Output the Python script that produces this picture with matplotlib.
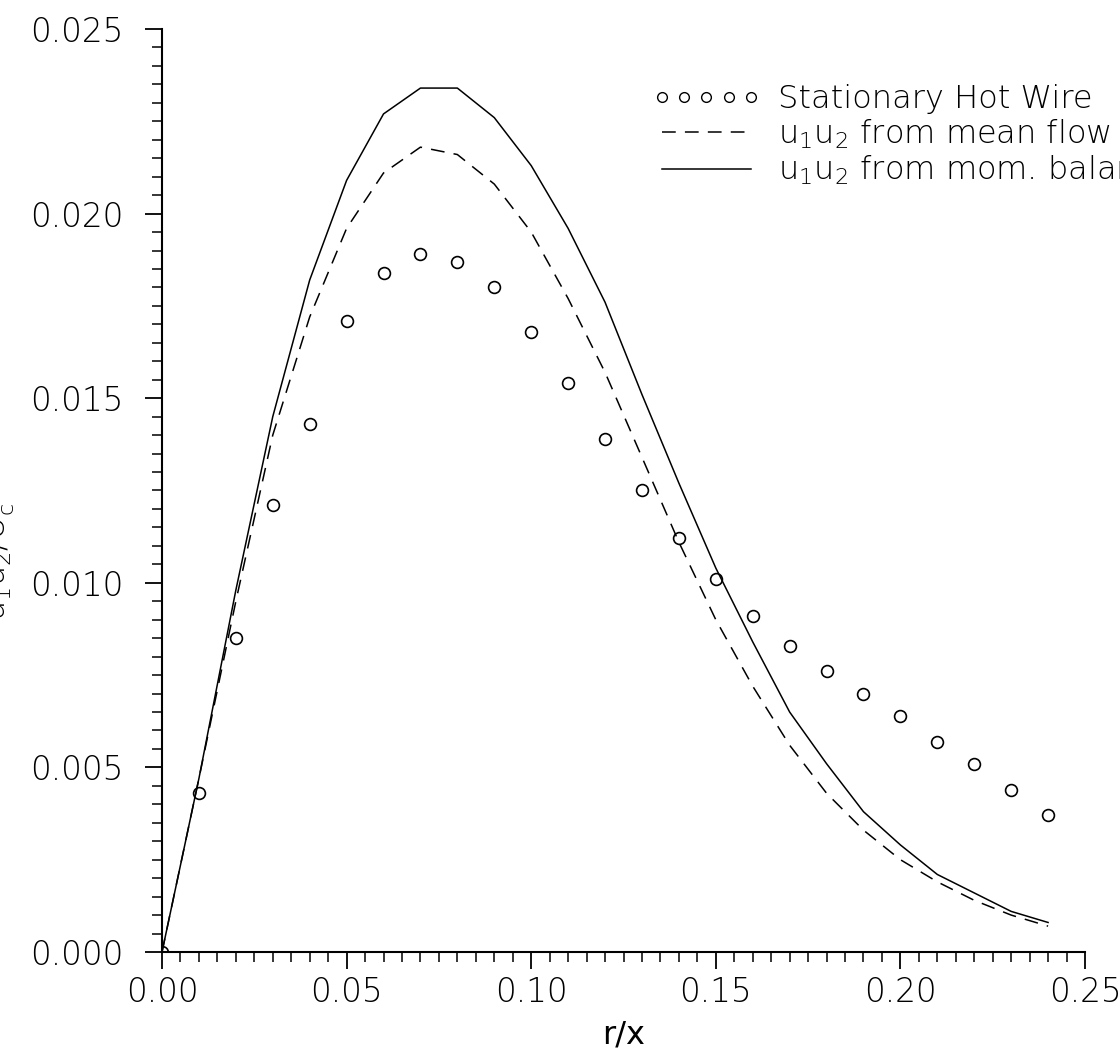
import matplotlib
matplotlib.use("Agg")
import matplotlib.pyplot as plt
from matplotlib.ticker import MultipleLocator, FormatStrFormatter

plt.rcParams['font.family'] = ['DejaVu Sans']
plt.rcParams['font.weight'] = 200
plt.rcParams['mathtext.fontset'] = 'custom'
plt.rcParams['mathtext.rm'] = 'DejaVu Sans:light'
plt.rcParams['mathtext.it'] = 'DejaVu Sans:light'

# radial positions r/x
r_x = [0.00, 0.01, 0.02, 0.03, 0.04, 0.05, 0.06, 0.07, 0.08, 0.09, 0.10, 0.11, 0.12,
       0.13, 0.14, 0.15, 0.16, 0.17, 0.18, 0.19, 0.20, 0.21, 0.22, 0.23, 0.24]

# stationary hot wire measurements
hot_wire = [0.0, 0.0043, 0.0085, 0.0121, 0.0143, 0.0171, 0.0184, 0.0189, 0.0187, 0.0180,
            0.0168, 0.0154, 0.0139, 0.0125, 0.0112, 0.0101, 0.0091, 0.0083, 0.0076,
            0.0070, 0.0064, 0.0057, 0.0051, 0.0044, 0.0037]

# u1u2 from mean flow
mean_flow = [0.0, 0.0047, 0.0095, 0.0140, 0.0172, 0.0196, 0.0211, 0.0218, 0.0216, 0.0208,
             0.0195, 0.0177, 0.0157, 0.0134, 0.0111, 0.0090, 0.0072, 0.0056, 0.0043,
             0.0033, 0.0025, 0.0019, 0.0014, 0.0010, 0.0007]

# u1u2 from momentum balance
mom_balance = [0.0, 0.0047, 0.0098, 0.0145, 0.0182, 0.0209, 0.0227, 0.0234, 0.0234, 0.0226,
               0.0213, 0.0196, 0.0176, 0.0151, 0.0127, 0.0104, 0.0084, 0.0065, 0.0051,
               0.0038, 0.0029, 0.0021, 0.0016, 0.0011, 0.0008]

W, H = 1120, 1050
fig = plt.figure(figsize=(W / 100, H / 100), dpi=100)
ax = fig.add_axes([162 / W, 1 - 952 / H, 923 / W, 923 / H])

ax.plot(r_x, hot_wire, 'o', ls='none', ms=8.5, mfc='none', mec='black', mew=1.2,
        label='Stationary Hot Wire')
ax.plot(r_x, mean_flow, color='black', lw=1.1, ls=(0, (9, 6)),
        label=r'u$_1$u$_2$ from mean flow')
ax.plot(r_x, mom_balance, color='black', lw=1.1,
        label=r'u$_1$u$_2$ from mom. balance')

ax.set_xlim(0, 0.25)
ax.set_ylim(0, 0.025)
for side in ('top', 'right'):
    ax.spines[side].set_visible(False)
for side in ('left', 'bottom'):
    ax.spines[side].set_linewidth(1.5)

ax.xaxis.set_major_locator(MultipleLocator(0.05))
ax.xaxis.set_minor_locator(MultipleLocator(0.005))
ax.yaxis.set_major_locator(MultipleLocator(0.005))
ax.yaxis.set_minor_locator(MultipleLocator(0.0005))
ax.xaxis.set_major_formatter(FormatStrFormatter('%.2f'))
ax.yaxis.set_major_formatter(FormatStrFormatter('%.3f'))
ax.tick_params(which='major', length=12, width=1.3, labelsize=23.5)
ax.tick_params(which='minor', length=7, width=1.1)
ax.tick_params(axis='x', which='major', pad=5)
ax.tick_params(axis='y', which='major', pad=16)

ax.set_xlabel('r/x', fontsize=23, labelpad=8)
fig.text(17 / W, 1 - 560 / H, r'$\overline{u_1u_2}/U_c^2$', rotation=90,
         ha='right', va='center', fontsize=23)

leg = ax.legend(loc='upper left', bbox_to_anchor=(652 / W, 1 - 84 / H),
                bbox_transform=fig.transFigure, frameon=False, fontsize=23,
                numpoints=5, handlelength=3.4, handletextpad=0.55,
                labelspacing=0.1, borderpad=0, borderaxespad=0)
leg.legend_handles[0].set_markersize(7)
leg.legend_handles[0].set_markeredgewidth(1.0)

fig.savefig('out.png', dpi=100)
